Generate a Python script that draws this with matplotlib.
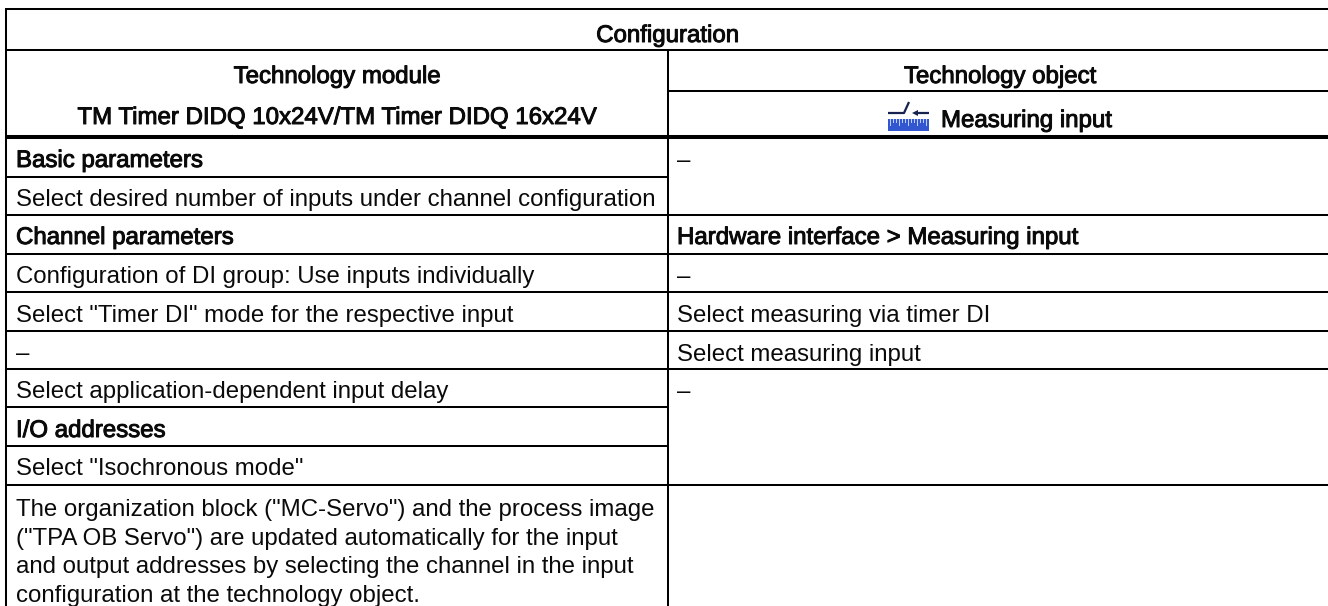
import matplotlib
matplotlib.use("Agg")
import matplotlib.pyplot as plt
import matplotlib.patheffects as pe
from matplotlib.patches import Rectangle, Polygon

plt.rcParams['font.family'] = ['Liberation Sans', 'DejaVu Sans']

# table text
title = "Configuration"
left_head = ["Technology module", "TM Timer DIDQ 10x24V/TM Timer DIDQ 16x24V"]
right_head = ["Technology object", "Measuring input"]

left_rows = ["Basic parameters",
             "Select desired number of inputs under channel configuration",
             "Channel parameters",
             "Configuration of DI group: Use inputs individually",
             "Select \"Timer DI\" mode for the respective input",
             "–",
             "Select application-dependent input delay",
             "I/O addresses",
             "Select \"Isochronous mode\""]
left_bold = [True, False, True, False, False, False, False, True, False]

right_rows = ["–",
              "Hardware interface > Measuring input",
              "–",
              "Select measuring via timer DI",
              "Select measuring input",
              "–"]
right_bold = [False, True, False, False, False, False]

note_lines = ["The organization block (\"MC-Servo\") and the process image",
              "(\"TPA OB Servo\") are updated automatically for the input",
              "and output addresses by selecting the channel in the input",
              "configuration at the technology object."]

# layout in pixels
left_base = [167, 206, 244, 283, 322, 360, 398, 437, 475]
right_base = [167, 244, 283, 322, 361, 398]
note_base = [516, 545, 573, 602]
FS = 17.3

fig = plt.figure(figsize=(13.28, 6.06), dpi=100)
ax = fig.add_axes([0, 0, 1, 1])
ax.set_xlim(0, 1328)
ax.set_ylim(606, 0)
ax.axis('off')


def put(x, y, s, bold=False, ha='left'):
    t = ax.text(x, y, s, fontsize=FS, ha=ha, va='baseline', color='#0a0a0a')
    if bold:
        t.set_path_effects([pe.withStroke(linewidth=0.7, foreground='#0a0a0a')])


def hline(y, x0, x1, lw=1.45):
    ax.plot([x0, x1], [y, y], color='black', lw=lw, solid_capstyle='butt')


def vline(x, y0, y1, lw=1.45):
    ax.plot([x, x], [y0, y1], color='black', lw=lw, solid_capstyle='butt')


# grid
X0, XM, X1 = 6, 668, 1328
hline(9, X0 - 1, X1)
hline(50, X0, X1)
hline(91, XM, X1)
hline(137, X0, X1, lw=2.9)
for y in [177, 407, 446]:
    hline(y, X0, XM)
for y in [215, 254, 292, 331, 369, 485]:
    hline(y, X0, X1)
vline(X0, 9, 606)
vline(XM, 50, 606)

# headers
put(667.5, 42, title, True, 'center')
put(337, 83, left_head[0], True, 'center')
put(337, 124, left_head[1], True, 'center')
put(1000, 83, right_head[0], True, 'center')
put(941, 127, right_head[1], True)

# measuring input icon
navy = '#16234f'
ax.plot([888, 904, 909], [113, 113, 102], color=navy, lw=1.6, solid_capstyle='butt')
ax.plot([917, 929], [113, 113], color=navy, lw=1.6, solid_capstyle='butt')
ax.add_patch(Polygon([[912, 113], [918, 110], [918, 116]], color=navy, lw=0))
ax.add_patch(Rectangle((888, 119), 41, 12, color='#3257d0', lw=0))
for x, h in zip(range(890, 929, 3), [6, 3, 3, 6, 3, 3, 6, 3, 3, 6, 3, 3, 6]):
    ax.plot([x, x], [119, 119 + h], color='#c4d2f5', lw=0.7)

# rows
for s, y, b in zip(left_rows, left_base, left_bold):
    put(16, y, s, b)
for s, y, b in zip(right_rows, right_base, right_bold):
    put(677, y, s, b)
for s, y in zip(note_lines, note_base):
    put(16, y, s)

fig.savefig("out.png", dpi=100)
